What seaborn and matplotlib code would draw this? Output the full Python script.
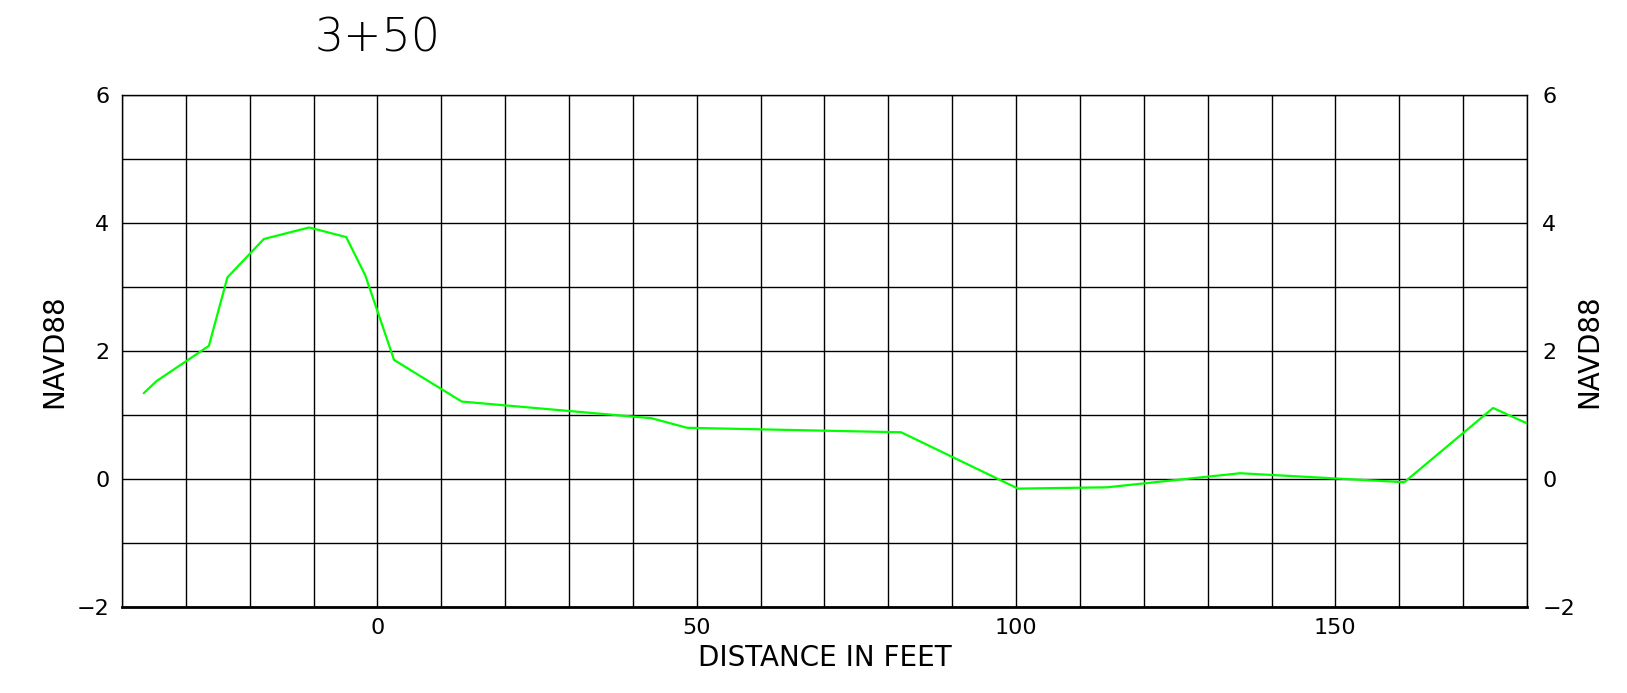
import numpy as np
import pandas as pd
import matplotlib
matplotlib.use("Agg")
import matplotlib.pyplot as plt
import seaborn as sns

# profile
distance = [-36.6, -34.6, -26.4, -23.5, -17.8, -10.7, -4.9, -1.9, 2.6, 13.2,
            42.9, 48.5, 82.0, 100.3, 114.2, 135.1, 160.8, 174.7, 180.0]
elevation = [1.34, 1.53, 2.08, 3.15, 3.75, 3.93, 3.78, 3.18, 1.86, 1.21,
             0.95, 0.80, 0.73, -0.15, -0.13, 0.09, -0.05, 1.11, 0.87]

station = "3+50"
x_labels = [0, 50, 100, 150]
y_labels = [-2, 0, 2, 4, 6]

sns.set_theme(style="white")
plt.rcParams['font.family'] = ['DejaVu Sans']

df = pd.DataFrame({'Distance': distance, 'Elevation': elevation})

fig = plt.figure(figsize=(16.27, 6.93), dpi=100)
ax = fig.add_axes([0.075, 0.1241, 0.8635, 0.7388])

sns.lineplot(data=df, x='Distance', y='Elevation', sort=False,
             color='#00FF00', linewidth=1.6, ax=ax, zorder=3)

ax.set_xlim(-40, 180)
ax.set_ylim(-2, 6)

# grid every 10 ft / 1 ft, labels only on the major values
ax.set_xticks(np.arange(-40, 181, 10))
ax.set_xticklabels([str(v) if v in x_labels else '' for v in range(-40, 181, 10)])
ax.set_yticks(np.arange(-2, 7, 1))
ax.set_yticklabels([str(v).replace('-', '\u2212') if v in y_labels else '' for v in range(-2, 7)])
ax.grid(True, color='black', linewidth=1.0)
ax.tick_params(axis='y', length=0, labelsize=16, pad=9, colors='black')
ax.tick_params(axis='x', length=0, labelsize=16, pad=8, colors='black')

for side in ['left', 'top', 'right']:
    ax.spines[side].set_color('black')
    ax.spines[side].set_linewidth(1.0)
ax.spines['bottom'].set_color('black')
ax.spines['bottom'].set_linewidth(2.0)

ax.set_xlabel('DISTANCE IN FEET', fontsize=20, labelpad=4, color='black')
ax.set_ylabel('NAVD88', fontsize=20, labelpad=6, color='black')

ax2 = ax.twinx()
ax2.set_ylim(-2, 6)
ax2.set_yticks(y_labels)
ax2.set_yticklabels([str(v).replace('-', '\u2212') for v in y_labels])
ax2.tick_params(length=0, labelsize=16, pad=11, colors='black')
ax2.set_ylabel('NAVD88', fontsize=20, labelpad=0, rotation=90, color='black')
for s in ax2.spines.values():
    s.set_visible(False)

fig.text(378 / 1627, 1 - 38 / 693, station, fontsize=33, ha='center', va='center',
         color='black', fontweight='light')

fig.savefig('out.png', dpi=100)
